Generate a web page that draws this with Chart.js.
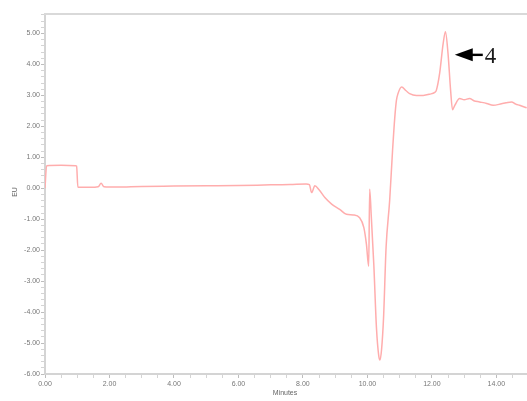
<!DOCTYPE html>
<html>
<head>
<meta charset="utf-8">
<script src="https://cdn.jsdelivr.net/npm/chart.js@4/dist/chart.umd.min.js"></script>
<style>
  html, body { margin: 0; padding: 0; background: #ffffff; }
  #wrap { width: 527px; height: 401px; position: relative; }
</style>
</head>
<body>
<div id="wrap"><canvas id="c" width="527" height="401"></canvas></div>
<script>
// ---- data ----
const timeMin = [0, 0.05, 0.5, 0.95, 0.98, 1.02, 1.4, 1.65, 1.74, 1.83, 2.2, 3.0, 4.0, 5.0, 6.0, 7.0, 7.6, 8.1, 8.2, 8.27, 8.37, 8.5, 8.68, 8.89, 9.14, 9.35, 9.56, 9.76, 9.89, 9.97, 10.04, 10.07, 10.12, 10.20, 10.28, 10.35, 10.39, 10.44, 10.50, 10.58, 10.69, 10.78, 10.85, 10.90, 10.95, 11.06, 11.2, 11.31, 11.52, 11.73, 11.93, 12.09, 12.14, 12.24, 12.35, 12.42, 12.50, 12.58, 12.64, 12.71, 12.86, 13.0, 13.17, 13.3, 13.48, 13.7, 13.9, 14.16, 14.3, 14.47, 14.6, 14.72, 14.94];
const signalEU = [0, 0.73, 0.74, 0.73, 0.72, 0.03, 0.03, 0.05, 0.16, 0.05, 0.04, 0.06, 0.07, 0.08, 0.09, 0.11, 0.12, 0.14, 0.12, -0.14, 0.08, -0.05, -0.3, -0.51, -0.68, -0.84, -0.86, -0.95, -1.27, -1.81, -2.52, -0.03, -0.9, -2.5, -4.5, -5.4, -5.55, -5.2, -4.2, -1.9, -0.4, 1.22, 2.3, 2.84, 3.06, 3.27, 3.15, 3.06, 3.0, 3.0, 3.04, 3.1, 3.17, 3.71, 4.68, 5.06, 4.36, 3.17, 2.54, 2.68, 2.9, 2.86, 2.9, 2.83, 2.79, 2.74, 2.68, 2.73, 2.76, 2.79, 2.72, 2.68, 2.6];

const yMajorTicks = [-6, -5, -4, -3, -2, -1, 0, 1, 2, 3, 4, 5];
const xMajorTicks = [0, 2, 4, 6, 8, 10, 12, 14];
const yMinorStep = 0.2;
const xMinorStep = 0.5;
const xTitle = 'Minutes';
const yTitle = 'EU';
const peakLabel = '4';
const peakAnchor = { x: 12.71, y: 4.31 };

const points = timeMin.map((t, i) => ({ x: t, y: signalEU[i] }));

function buildTicks(min, max, step) {
  const out = [];
  const n = Math.floor((max - min) / step + 1e-6);
  for (let i = 0; i <= n; i++) out.push({ value: +(min + i * step).toFixed(4) });
  return out;
}
function isMajor(v, list) { return list.some(m => Math.abs(m - v) < 1e-6); }

const frame = {
  id: 'frame',
  afterDraw(chart) {
    const { ctx, chartArea: a, scales } = chart;
    ctx.save();
    // top border
    ctx.strokeStyle = '#d9d9d9';
    ctx.lineWidth = 2;
    ctx.beginPath();
    ctx.moveTo(a.left - 1, a.top);
    ctx.lineTo(a.right, a.top);
    ctx.stroke();
    // axis titles
    ctx.fillStyle = '#666';
    ctx.font = '7px "Liberation Sans", Arial, sans-serif';
    ctx.textAlign = 'center';
    ctx.textBaseline = 'middle';
    ctx.fillText(xTitle, 285, 393);
    ctx.translate(15, 192);
    ctx.rotate(-Math.PI / 2);
    ctx.fillText(yTitle, 0, 0);
    ctx.restore();

    // annotation arrow and label
    const px = scales.x.getPixelForValue(peakAnchor.x);
    const py = scales.y.getPixelForValue(peakAnchor.y);
    ctx.save();
    ctx.fillStyle = '#000';
    ctx.beginPath();
    ctx.moveTo(px, py);
    ctx.lineTo(px + 18, py - 6.5);
    ctx.lineTo(px + 18, py + 6.5);
    ctx.closePath();
    ctx.fill();
    ctx.fillRect(px + 17, py - 1.2, 11, 2.4);
    ctx.font = '23px "Liberation Serif", "Times New Roman", serif';
    ctx.textAlign = 'left';
    ctx.textBaseline = 'alphabetic';
    ctx.fillStyle = '#1a1a1a';
    ctx.fillText(peakLabel, px + 30, py + 8.5);
    ctx.restore();
  }
};

new Chart(document.getElementById('c'), {
  type: 'line',
  data: {
    datasets: [{
      data: points,
      borderColor: '#ffadad',
      borderWidth: 1.5,
      pointRadius: 0,
      fill: false,
      cubicInterpolationMode: 'monotone'
    }]
  },
  options: {
    responsive: false,
    animation: false,
    events: [],
    layout: { padding: { top: 14, right: 0, left: 0, bottom: 0 } },
    plugins: { legend: { display: false }, tooltip: { enabled: false } },
    scales: {
      x: {
        type: 'linear',
        min: 0,
        max: 14.95,
        afterBuildTicks: s => { s.ticks = buildTicks(0, 14.5, xMinorStep); },
        afterFit: s => { s.height = 27; },
        grid: {
          drawOnChartArea: false,
          drawTicks: true,
          tickLength: 4,
          tickColor: c => isMajor(c.tick ? c.tick.value : 0, xMajorTicks) ? '#bdbdbd' : '#d4d4d4',
          tickWidth: 1
        },
        border: { display: true, color: '#d4d4d4', width: 2 },
        ticks: {
          autoSkip: false,
          maxRotation: 0,
          padding: 2,
          color: '#777',
          font: { size: 7, family: '"Liberation Sans", Arial, sans-serif' },
          callback: v => isMajor(v, xMajorTicks) ? v.toFixed(2) : ''
        }
      },
      y: {
        type: 'linear',
        min: -6,
        max: 5.63,
        afterBuildTicks: s => { s.ticks = buildTicks(-6, 5.6, yMinorStep); },
        afterFit: s => { s.width = 45; },
        grid: {
          drawOnChartArea: false,
          drawTicks: true,
          tickLength: 4,
          tickColor: c => isMajor(c.tick ? c.tick.value : 0, yMajorTicks) ? '#bdbdbd' : '#d4d4d4',
          tickWidth: 1
        },
        border: { display: true, color: '#d4d4d4', width: 2 },
        ticks: {
          autoSkip: false,
          padding: 1,
          color: '#777',
          font: { size: 7, family: '"Liberation Sans", Arial, sans-serif' },
          callback: v => isMajor(v, yMajorTicks) ? v.toFixed(2) : ''
        }
      }
    }
  },
  plugins: [frame]
});
</script>
</body>
</html>
